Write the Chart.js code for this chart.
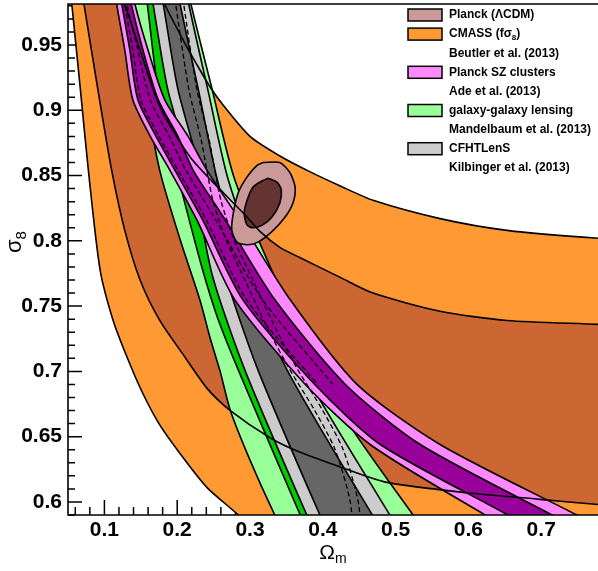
<!DOCTYPE html>
<html><head><meta charset="utf-8">
<script src="https://cdn.jsdelivr.net/npm/chart.js@4.4.1/dist/chart.umd.min.js"></script>
<style>html,body{margin:0;padding:0;background:#fff;}canvas{display:block;}</style>
</head><body>
<canvas id="c" width="598" height="571"></canvas>
<script>
// ---------- axes ----------
const X_MIN = 0.05, X_MAX = 0.778, Y_MIN = 0.59, Y_MAX = 0.9814;
const X_TICKS = [0.1, 0.2, 0.3, 0.4, 0.5, 0.6, 0.7];
const Y_TICKS = [0.6, 0.65, 0.7, 0.75, 0.8, 0.85, 0.9, 0.95];
const X_TITLE = 'Ω_m';
const Y_TITLE = 'σ_8';

// ---------- CMASS (f sigma8), Beutler et al. 2013 : contour boundaries [Omega_m, sigma_8] ----------
const CMASS_2S_IN  = [[0.054,0.988],[0.067,0.916],[0.078,0.854],[0.094,0.778],[0.112,0.739],[0.131,0.711],[0.152,0.684],[0.176,0.659],[0.208,0.634],[0.241,0.611],[0.284,0.590],[0.311,0.575]];
const CMASS_2S_OUT = [[0.176,0.992],[0.183,0.981],[0.208,0.954],[0.227,0.935],[0.245,0.918],[0.263,0.904],[0.300,0.880],[0.341,0.865],[0.382,0.853],[0.424,0.842],[0.469,0.831],[0.561,0.817],[0.653,0.808],[0.778,0.802],[0.808,0.802]];
const CMASS_1S_IN  = [[0.069,0.992],[0.072,0.981],[0.091,0.916],[0.110,0.854],[0.128,0.808],[0.149,0.770],[0.176,0.739],[0.208,0.713],[0.241,0.687],[0.273,0.670],[0.328,0.649],[0.369,0.638],[0.428,0.626],[0.488,0.615],[0.598,0.607],[0.698,0.602],[0.778,0.598],[0.808,0.597]];
const CMASS_1S_OUT = [[0.119,0.992],[0.128,0.981],[0.149,0.946],[0.176,0.903],[0.218,0.864],[0.263,0.837],[0.293,0.820],[0.314,0.807],[0.341,0.795],[0.369,0.787],[0.424,0.772],[0.469,0.760],[0.561,0.746],[0.653,0.739],[0.778,0.736],[0.808,0.735]];

// ---------- galaxy-galaxy lensing, Mandelbaum et al. 2013 ----------
const LENS_2S_LEFT  = [[0.139,0.992],[0.142,0.981],[0.156,0.916],[0.176,0.854],[0.204,0.801],[0.231,0.755],[0.246,0.724],[0.259,0.700],[0.273,0.670],[0.300,0.632],[0.334,0.590],[0.352,0.571]];
const LENS_2S_RIGHT = [[0.216,0.992],[0.219,0.981],[0.248,0.916],[0.279,0.847],[0.348,0.755],[0.424,0.670],[0.524,0.590],[0.550,0.571]];
const LENS_1S_LEFT  = [[0.156,0.992],[0.159,0.981],[0.176,0.908],[0.225,0.798],[0.253,0.745],[0.284,0.701],[0.369,0.590],[0.385,0.571]];
const LENS_1S_RIGHT = [[0.187,0.992],[0.190,0.981],[0.245,0.847],[0.314,0.732],[0.355,0.678],[0.444,0.590],[0.462,0.571]];

// ---------- CFHTLenS, Kilbinger et al. 2013 ----------
const CFHT_2S_LEFT  = [[0.164,0.992],[0.167,0.981],[0.187,0.916],[0.222,0.847],[0.248,0.774],[0.293,0.701],[0.378,0.590],[0.395,0.571]];
const CFHT_1S_LEFT  = [[0.178,0.992],[0.181,0.981],[0.201,0.916],[0.235,0.847],[0.266,0.774],[0.311,0.701],[0.396,0.590],[0.413,0.571]];
const CFHT_1S_RIGHT = [[0.201,0.992],[0.204,0.981],[0.229,0.916],[0.255,0.847],[0.293,0.774],[0.351,0.701],[0.468,0.590],[0.490,0.571]];
const CFHT_2S_RIGHT = [[0.214,0.992],[0.216,0.981],[0.242,0.916],[0.270,0.847],[0.317,0.774],[0.373,0.701],[0.492,0.590],[0.513,0.571]];
const CFHT_ALT_A = [[0.196,0.992],[0.198,0.981],[0.216,0.916],[0.233,0.877],[0.249,0.831],[0.267,0.801],[0.293,0.770],[0.325,0.732],[0.355,0.701],[0.389,0.670],[0.417,0.640],[0.437,0.602],[0.443,0.571]];
const CFHT_ALT_B = [[0.207,0.992],[0.209,0.981],[0.227,0.916],[0.244,0.877],[0.260,0.831],[0.278,0.801],[0.304,0.770],[0.336,0.732],[0.366,0.701],[0.400,0.670],[0.428,0.640],[0.448,0.602],[0.454,0.571]];

// ---------- Planck SZ clusters, Ade et al. 2013 ----------
const SZ_2S_LEFT  = [[0.115,0.992],[0.117,0.981],[0.128,0.946],[0.139,0.908],[0.163,0.880],[0.190,0.854],[0.227,0.816],[0.279,0.755],[0.376,0.690],[0.465,0.644],[0.623,0.590],[0.685,0.571]];
const SZ_1S_LEFT  = [[0.121,0.992],[0.124,0.981],[0.135,0.946],[0.146,0.908],[0.171,0.880],[0.197,0.854],[0.235,0.816],[0.290,0.755],[0.389,0.690],[0.479,0.644],[0.654,0.590],[0.712,0.571]];
const SZ_1S_RIGHT = [[0.134,0.992],[0.137,0.981],[0.153,0.946],[0.174,0.908],[0.201,0.880],[0.222,0.854],[0.266,0.816],[0.334,0.755],[0.431,0.690],[0.534,0.644],[0.715,0.590],[0.781,0.571]];
const SZ_2S_RIGHT = [[0.139,0.992],[0.142,0.981],[0.160,0.946],[0.183,0.908],[0.215,0.880],[0.241,0.854],[0.286,0.816],[0.355,0.755],[0.447,0.690],[0.561,0.644],[0.749,0.590],[0.815,0.571]];
const SZ_ALT_A = [[0.126,0.992],[0.128,0.981],[0.139,0.946],[0.150,0.908],[0.175,0.880],[0.201,0.854],[0.240,0.816],[0.295,0.755],[0.393,0.690]];
const SZ_ALT_B = [[0.128,0.992],[0.131,0.981],[0.146,0.946],[0.163,0.908],[0.189,0.880],[0.212,0.854],[0.253,0.816],[0.317,0.755],[0.414,0.690]];

// ---------- Planck (LCDM) ----------
const PLANCK_2S = [[0.318,0.860],[0.341,0.860],[0.355,0.852],[0.362,0.841],[0.359,0.829],[0.348,0.818],[0.330,0.807],[0.311,0.799],[0.296,0.797],[0.282,0.799],[0.275,0.808],[0.277,0.821],[0.284,0.837],[0.296,0.849],[0.310,0.858],[0.318,0.860]];
const PLANCK_1S = [[0.325,0.848],[0.337,0.845],[0.343,0.839],[0.341,0.829],[0.330,0.818],[0.317,0.812],[0.304,0.810],[0.296,0.812],[0.292,0.821],[0.296,0.831],[0.304,0.841],[0.317,0.846],[0.325,0.848]];

// ---------- legend ----------
const LEGEND_TEXT   = ['Planck (ΛCDM)', 'CMASS (fσ_8)', 'Beutler et al. (2013)', 'Planck SZ clusters', 'Ade et al. (2013)', 'galaxy-galaxy lensing', 'Mandelbaum et al. (2013)', 'CFHTLenS', 'Kilbinger et al. (2013)'];
const LEGEND_COLORS = ['#cc9999', '#ff9933', null, '#ff88ff', null, '#99ff99', null, '#cccccc', null];

const C = {
  orange2: '#ff9933', orange1: '#cc6633',
  green2: '#99ff99', green1: '#00cc00',
  gray2: '#cccccc', gray1: '#666666',
  pink2: '#ff88ff', pink1: '#990099',
  planck2: '#cc9999', planck1: '#663333'
};
const FONT = '"Liberation Sans", Arial, Helvetica, sans-serif';

const pts = a => a.map(p => ({x: p[0], y: p[1]}));
const band = (left, right) => left.concat(right.slice().reverse());

function area(data, color, order, stroke) {
  return {data: pts(data), fill: 'shape', backgroundColor: color,
    borderColor: stroke ? '#000' : 'rgba(0,0,0,0)', borderWidth: stroke ? 1.6 : 1,
    pointRadius: 0, tension: 0.25, order: order, clip: 0};
}
function curve(data, order, dash) {
  return {data: pts(data), fill: false, borderColor: '#000', borderWidth: dash ? 1.3 : 1.6,
    borderDash: dash ? [5, 3] : [], pointRadius: 0, tension: 0.25, order: order, clip: 0};
}
const corner = [[X_MAX + 0.1, Y_MIN - 0.1]];

const datasets = [
  curve(CMASS_2S_IN, 0), curve(CMASS_2S_OUT, 0), curve(CMASS_1S_IN, 0), curve(CMASS_1S_OUT, 0),
  curve(CFHT_ALT_A, 1, true), curve(CFHT_ALT_B, 1, true), curve(SZ_ALT_A, 1, true), curve(SZ_ALT_B, 1, true),
  area(PLANCK_1S, C.planck1, 2, true),
  area(PLANCK_2S, C.planck2, 3, true),
  area(band(SZ_1S_LEFT, SZ_1S_RIGHT), C.pink1, 4, true),
  area(band(SZ_2S_LEFT, SZ_2S_RIGHT), C.pink2, 5, true),
  area(band(CFHT_1S_LEFT, CFHT_1S_RIGHT), C.gray1, 6, true),
  area(band(CFHT_2S_LEFT, CFHT_2S_RIGHT), C.gray2, 7, true),
  area(band(LENS_1S_LEFT, LENS_1S_RIGHT), C.green1, 8, true),
  area(band(LENS_2S_LEFT, LENS_2S_RIGHT), C.green2, 9, true),
  area(band(CMASS_1S_IN, CMASS_1S_OUT), C.orange1, 10, false),
  area(CMASS_2S_IN.concat(corner, CMASS_2S_OUT.slice().reverse()), C.orange2, 11, false)
];

// rich text with "_x" subscripts
function parseRich(s) {
  const parts = []; let buf = '';
  for (let i = 0; i < s.length; i++) {
    if (s[i] === '_' && i + 1 < s.length) { if (buf) parts.push([buf, false]); buf = ''; parts.push([s[i + 1], true]); i++; }
    else buf += s[i];
  }
  if (buf) parts.push([buf, false]);
  return parts;
}
function richWidth(ctx, s, size, weight) {
  let w = 0;
  for (const [t, sub] of parseRich(s)) { ctx.font = `${weight} ${sub ? Math.round(size * 0.68) : size}px ${FONT}`; w += ctx.measureText(t).width; }
  return w;
}
function drawRich(ctx, s, x, y, size, weight) {
  let cx = x;
  ctx.textBaseline = 'middle'; ctx.textAlign = 'left';
  for (const [t, sub] of parseRich(s)) {
    ctx.font = `${weight} ${sub ? Math.round(size * 0.68) : size}px ${FONT}`;
    ctx.fillText(t, cx, sub ? y + size * 0.3 : y);
    cx += ctx.measureText(t).width;
  }
}

const decor = {
  id: 'decor',
  beforeDatasetsDraw(chart) {
    const {ctx, chartArea: a, scales: {x, y}} = chart;
    ctx.save(); ctx.strokeStyle = '#000'; ctx.lineWidth = 1.5;
    ctx.beginPath();
    for (let i = 59; i <= 98; i++) {
      const py = y.getPixelForValue(i / 100); if (py < a.top + 1) continue;
      const len = i % 5 === 0 ? 14 : 7;
      ctx.moveTo(a.left, py); ctx.lineTo(a.left + len, py);
    }
    for (let i = 6; i <= 76; i += 2) {
      const px = x.getPixelForValue(i / 100);
      const len = i % 10 === 0 ? 15 : 8;
      ctx.moveTo(px, a.bottom); ctx.lineTo(px, a.bottom - len);
    }
    ctx.stroke(); ctx.restore();
  },
  afterDatasetsDraw(chart) {
    const {ctx, chartArea: a} = chart;
    ctx.save(); ctx.strokeStyle = '#000'; ctx.lineWidth = 1.6;
    ctx.beginPath();
    ctx.moveTo(a.right + 2, a.top); ctx.lineTo(a.left, a.top); ctx.lineTo(a.left, a.bottom); ctx.lineTo(a.right + 2, a.bottom);
    ctx.stroke();
    // legend
    const sx = a.left + 340, tx = a.left + 381;
    LEGEND_TEXT.forEach((t, i) => {
      const cy = a.top + 11 + i * 19.1;
      if (LEGEND_COLORS[i]) {
        ctx.fillStyle = LEGEND_COLORS[i]; ctx.fillRect(sx, cy - 6, 34, 12);
        ctx.lineWidth = 1.5; ctx.strokeRect(sx, cy - 6, 34, 12);
      }
      ctx.fillStyle = '#000';
      drawRich(ctx, t, tx, cy, 12, 'bold');
    });
    // axis titles
    const cxT = (a.left + a.right) / 2;
    const wx = richWidth(ctx, X_TITLE, 21, 'normal');
    drawRich(ctx, X_TITLE, cxT - wx / 2, 553, 21, 'normal');
    ctx.translate(15, 242); ctx.rotate(-Math.PI / 2);
    const wy = richWidth(ctx, Y_TITLE, 22, 'normal');
    drawRich(ctx, Y_TITLE, -wy / 2, 0, 22, 'normal');
    ctx.restore();
  }
};

new Chart(document.getElementById('c'), {
  type: 'line',
  data: {datasets},
  options: {
    responsive: false, animation: false, events: [],
    layout: {padding: {top: 4, right: 0, left: 0, bottom: 0}},
    plugins: {legend: {display: false}, tooltip: {enabled: false}},
    scales: {
      x: {type: 'linear', min: X_MIN, max: X_MAX,
        grid: {display: false, drawTicks: false}, border: {display: false},
        afterBuildTicks: s => { s.ticks = X_TICKS.map(v => ({value: v})); },
        afterFit: s => { s.height = 56; s.paddingLeft = 0; s.paddingRight = 0; },
        ticks: {autoSkip: false, maxRotation: 0, padding: 3, color: '#000', font: {family: FONT, size: 21, weight: 'bold'}, callback: v => String(v)}},
      y: {type: 'linear', min: Y_MIN, max: Y_MAX,
        grid: {display: false, drawTicks: false}, border: {display: false},
        afterBuildTicks: s => { s.ticks = Y_TICKS.map(v => ({value: v})); },
        afterFit: s => { s.width = 68; s.paddingTop = 0; s.paddingBottom = 0; },
        ticks: {autoSkip: false, padding: 6, color: '#000', font: {family: FONT, size: 21, weight: 'bold'}, callback: v => String(v)}}
    }
  },
  plugins: [decor]
});
</script>
</body></html>
